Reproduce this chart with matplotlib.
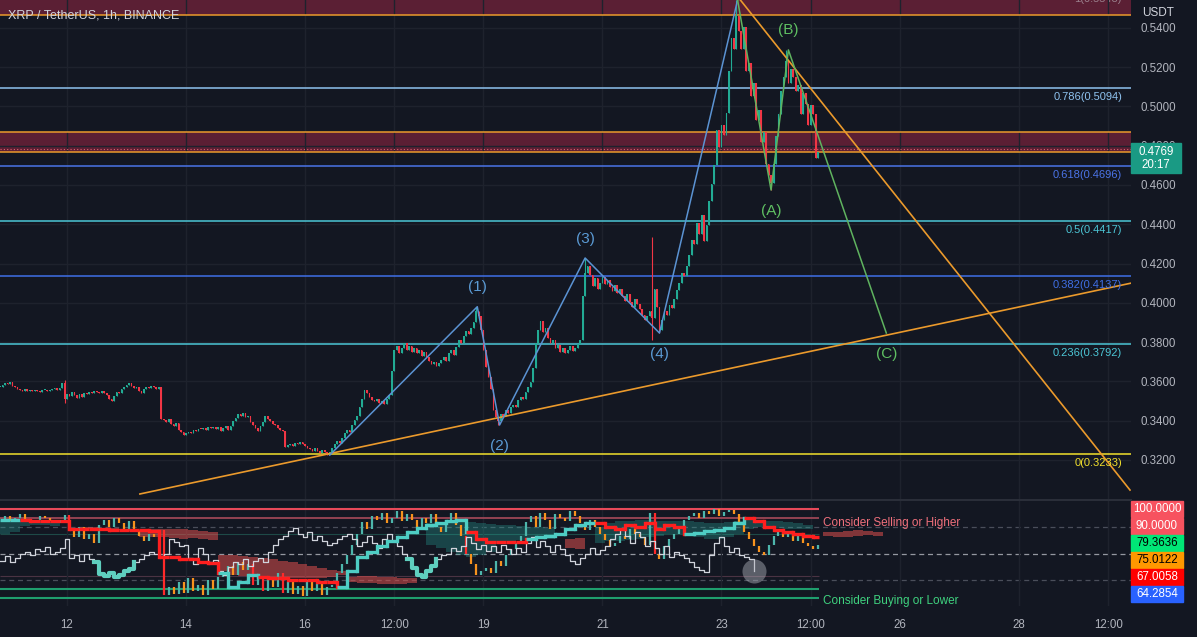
import numpy as np
import matplotlib.pyplot as plt
from matplotlib.patches import Rectangle
from matplotlib.lines import Line2D

plt.rcParams['font.family'] = ['Liberation Sans', 'DejaVu Sans']

BG = '#131722'
GRID = '#1e222d'
TXT = '#b2b5be'
UP = '#22ab94'
DN = '#f23645'
ORANGE = '#eb9a2c'

# hourly closes XRP/USDT, first candle at hour -27 (hours counted from 12 Sep 00:00)
first_hour = -27
closes = [
    0.3572, 0.3581, 0.3594, 0.3588, 0.3596, 0.3578, 0.3570, 0.3562, 0.3558, 0.3553,
    0.3560, 0.3549, 0.3555, 0.3551, 0.3558, 0.3552, 0.3547, 0.3554, 0.3557, 0.3549,
    0.3556, 0.3561, 0.3567, 0.3558, 0.3565, 0.3590, 0.3512, 0.3538, 0.3527, 0.3545,
    0.3530, 0.3518, 0.3534, 0.3521, 0.3540, 0.3536, 0.3548, 0.3542, 0.3553, 0.3546,
    0.3539, 0.3551, 0.3543, 0.3530, 0.3512, 0.3498, 0.3524, 0.3547, 0.3541, 0.3562,
    0.3570, 0.3583, 0.3594, 0.3578, 0.3565, 0.3571, 0.3552, 0.3543, 0.3560, 0.3574,
    0.3568, 0.3579, 0.3571, 0.3563, 0.3574, 0.3408, 0.3402, 0.3395, 0.3410, 0.3384,
    0.3372, 0.3389, 0.3352, 0.3341, 0.3326, 0.3338, 0.3345, 0.3336, 0.3351, 0.3347,
    0.3360, 0.3356, 0.3364, 0.3352, 0.3367, 0.3361, 0.3370, 0.3358, 0.3366, 0.3349,
    0.3362, 0.3371, 0.3355, 0.3372, 0.3398, 0.3415, 0.3432, 0.3426, 0.3440, 0.3418,
    0.3424, 0.3395, 0.3378, 0.3362, 0.3349, 0.3371, 0.3392, 0.3425, 0.3408, 0.3396,
    0.3381, 0.3376, 0.3364, 0.3352, 0.3347, 0.3268, 0.3275, 0.3281, 0.3272, 0.3286,
    0.3279, 0.3291, 0.3283, 0.3270, 0.3262, 0.3255, 0.3248, 0.3259, 0.3244, 0.3236,
    0.3250, 0.3241, 0.3228, 0.3239, 0.3262, 0.3281, 0.3296, 0.3288, 0.3312, 0.3335,
    0.3352, 0.3341, 0.3378, 0.3402, 0.3425, 0.3468, 0.3512, 0.3556, 0.3541, 0.3520,
    0.3507, 0.3498, 0.3512, 0.3489, 0.3501, 0.3486, 0.3512, 0.3530, 0.3652, 0.3758,
    0.3781, 0.3742, 0.3770, 0.3795, 0.3761, 0.3778, 0.3752, 0.3770, 0.3742, 0.3758,
    0.3731, 0.3749, 0.3722, 0.3705, 0.3688, 0.3701, 0.3679, 0.3692, 0.3710, 0.3726,
    0.3702, 0.3742, 0.3761, 0.3735, 0.3776, 0.3810, 0.3795, 0.3832, 0.3855, 0.3840,
    0.3872, 0.3903, 0.3960, 0.3935, 0.3861, 0.3758, 0.3672, 0.3621, 0.3563, 0.3452,
    0.3418, 0.3401, 0.3436, 0.3425, 0.3452, 0.3440, 0.3468, 0.3481, 0.3472, 0.3503,
    0.3521, 0.3512, 0.3548, 0.3572, 0.3596, 0.3668, 0.3795, 0.3862, 0.3905, 0.3851,
    0.3874, 0.3820, 0.3795, 0.3812, 0.3768, 0.3785, 0.3752, 0.3770, 0.3745, 0.3762,
    0.3781, 0.3757, 0.3772, 0.3790, 0.3812, 0.4035, 0.4150, 0.4186, 0.4142, 0.4088,
    0.4125, 0.4070, 0.4102, 0.4131, 0.4095, 0.4118, 0.4082, 0.4060, 0.4091, 0.4048,
    0.4072, 0.4036, 0.4010, 0.4045, 0.4002, 0.3981, 0.4018, 0.3992, 0.3968, 0.3940,
    0.3912, 0.3935, 0.3960, 0.3925, 0.4068, 0.3978, 0.3862, 0.3915, 0.3958, 0.3940,
    0.3988, 0.3975, 0.4020, 0.4065, 0.4102, 0.4150, 0.4135, 0.4188, 0.4245, 0.4320,
    0.4298, 0.4405, 0.4352, 0.4448, 0.4312, 0.4398, 0.4520, 0.4605, 0.4702, 0.4880,
    0.4795, 0.4905, 0.4852, 0.4968, 0.5180, 0.5350, 0.5290, 0.5460, 0.5385, 0.5290,
    0.5405, 0.5180, 0.5220, 0.5050, 0.5120, 0.4930, 0.4980, 0.4820, 0.4870, 0.4705,
    0.4650, 0.4610, 0.4705, 0.4850, 0.4960, 0.5080, 0.5150, 0.5230, 0.5120, 0.5190,
    0.5150, 0.5080, 0.5110, 0.4960, 0.5070, 0.5010, 0.4905, 0.5005, 0.4960, 0.4735,
    0.4769,
]
wick_hi = {-1: 0.3607, 165: 0.3980, 209: 0.4228, 236: 0.4335, 270: 0.5541, 290: 0.5287}
wick_lo = {-1: 0.3490, 105: 0.3225, 174: 0.3378, 236: 0.3810, 239: 0.3846, 284: 0.4574}
last_price = 0.4769
countdown = '20:17'

price_ticks = [0.32, 0.34, 0.36, 0.38, 0.40, 0.42, 0.44, 0.46, 0.48, 0.50, 0.52, 0.54]
date_ticks = [0, 48, 96, 132, 168, 216, 264, 300, 336, 384, 420]
date_labels = ['12', '14', '16', '12:00', '19', '21', '23', '12:00', '26', '28', '12:00']

fib_levels = [0.5094, 0.4696, 0.4417, 0.4137, 0.3792, 0.3233]
fib_names = ['0.786', '0.618', '0.5', '0.382', '0.236', '0']
fib_colors = ['#8ec2ef', '#4b74e8', '#4cc6d6', '#3f6fe6', '#4cc6d6', '#f2e02c']
zones = [(0.5465, 0.5700), (0.4767, 0.4869)]

wave_h = [106, 165.5, 174.5, 209, 239, 270.5]
wave_p = [0.3225, 0.3980, 0.3378, 0.4228, 0.3846, 0.5541]
wave_names = ['', '(1)', '(2)', '(3)', '(4)', '']
abc_h = [270.5, 284, 291, 330.5]
abc_p = [0.5541, 0.4574, 0.5287, 0.3846]
abc_names = ['', '(A)', '(B)', '(C)']
support_h, support_p = [29.4, 429.2], [0.3027, 0.4100]
resist_h, resist_p = [271.5, 428.8], [0.5543, 0.3047]

# lower pane: RSI (2h steps), lagging line (2h), base line (4h), cloud spans (4h)
rsi = [
    88, 92, 86, 90, 94, 89, 85, 88, 92, 90,
    86, 84, 88, 93, 75, 68, 80, 66, 72, 62,
    82, 88, 80, 90, 84, 78, 86, 75, 70, 64,
    72, 68, 76, 3, 12, 4, 18, 6, 22, 8,
    15, 3, 20, 10, 24, 28, 36, 26, 40, 32,
    38, 15, 25, 8, 22, 12, 28, 6, 18, 4,
    14, 2, 20, 8, 16, 3, 12, 15, 28, 38,
    48, 60, 72, 85, 78, 92, 88, 96, 84, 90,
    98, 86, 94, 88, 80, 90, 84, 94, 80, 74,
    88, 96, 82, 70, 50, 38, 26, 30, 34, 28,
    42, 36, 48, 55, 62, 70, 85, 92, 80, 96,
    88, 78, 94, 90, 86, 98, 92, 84, 76, 88,
    80, 72, 65, 58, 62, 70, 66, 78, 72, 68,
    60, 96, 50, 44, 58, 66, 72, 80, 88, 92,
    96, 90, 98, 94, 100, 92, 97, 99, 94, 82,
    74, 66, 58, 52, 48, 60, 70, 76, 68, 72,
    64, 70, 62, 58, 55, 60,
]
lagging = [
    42, 47, 40, 45, 50, 52, 48, 55, 53, 57,
    50, 52, 56, 66, 45, 48, 42, 50, 44, 40,
    27, 25, 28, 24, 26, 30, 33, 40, 44, 48,
    52, 50, 47, 49, 66, 63, 58, 60, 45, 38,
    56, 50, 41, 43, 30, 26, 35, 40, 38, 44,
    36, 42, 45, 40, 52, 60, 66, 70, 75, 79,
    72, 68, 74, 65, 70, 64, 60, 62, 66, 70,
    72, 66, 58, 63, 70, 62, 56, 66, 72, 64,
    58, 50, 44, 34, 26, 24, 30, 36, 44, 48,
    50, 56, 53, 58, 68, 62, 55, 60, 53, 58,
    52, 60, 55, 50, 56, 52, 62, 68, 57, 64,
    58, 52, 60, 55, 48, 42, 38, 45, 50, 56,
    49, 54, 58, 66, 72, 78, 70, 62, 74, 68,
    58, 64, 56, 50, 58, 46, 52, 48, 45, 40,
    35, 31, 29, 48, 62, 68, 58, 52, 56, 48,
    46, 44, 30,
]
lagging_low = [(19, 27), (82, 88)]
base = [
    88, 88, 88, 87, 87, 87, 86,
    78, 77, 77, 77, 76, 76, 76, 76, 75,
    46, 46, 44, 44, 40, 39,
    28, 12, 18, 26,
    24, 22, 22, 20, 20, 20, 18, 18,
    12, 30, 46, 52, 58, 64, 68, 74, 79, 82, 84, 86, 88,
    74, 66, 63, 63, 63, 63,
    66, 68, 70, 72, 78, 82, 84,
    84, 80, 78, 82, 80, 84, 78, 82, 80,
    72, 73, 75, 76, 79, 84,
    90, 86, 80, 76, 74, 72, 70, 68,
]
base_rising = [(0, 1), (22, 25), (34, 46), (53, 59), (69, 74)]
span_a = [
    88, 87, 86, 86, 86, 85, 84,
    77, 77, 77, 76, 76, 76, 75,
    69, 68, 68, 67, 66, 67, 66, 65,
    30, 26, 25, 24, 24, 23, 23, 22, 22, 22, 22, 24, 26,
    18, 17, 17, 16, 16, 16, 17, 18,
    84, 85, 86, 86, 85, 84, 83,
    82, 82, 81, 80, 80, 79, 78,
    56, 55, 56,
    80, 84, 86, 87, 88, 88, 87, 86, 86, 86, 85, 84, 84, 85, 86,
    88, 88, 87, 86, 85, 84, 82, 80,
    70, 69, 68, 70, 71, 70, 69,
]
span_b = [
    72, 74, 81, 82, 82, 81, 80,
    79, 80, 80, 79, 79, 78, 78,
    76, 77, 78, 78, 77, 76, 75, 74,
    48, 48, 47, 46, 45, 44, 42, 40, 38, 36, 34, 32, 30,
    24, 25, 25, 24, 24, 23, 22, 21,
    60, 56, 52, 48, 46, 48, 52,
    62, 64, 65, 66, 66, 66, 67,
    66, 67, 66,
    62, 64, 64, 65, 66, 68, 70, 72, 72, 70, 68, 66, 66, 68, 72,
    78, 80, 80, 79, 78, 78, 77, 76,
    74, 74, 75, 76, 75, 74, 73,
]
level_vals = ['100.0000', '90.0000', '79.3636', '75.0122', '67.0058', '64.2854']
level_bg = ['#f7525f', '#f7525f', '#00e676', '#ff9800', '#ff0000', '#2962ff']
level_fg = ['white', 'white', 'black', 'black', 'white', 'white']

# ---------------------------------------------------------------- figure
W, H = 1197, 637
fig = plt.figure(figsize=(W / 100, H / 100), dpi=100, facecolor=BG)
ax = fig.add_axes([0, (H - 499) / H, 1131 / W, 499 / H], facecolor=BG)
ax2 = fig.add_axes([0, (H - 606) / H, 1131 / W, 105 / H], facecolor=BG)
xl = (-27.03, 429.2)
for a in (ax, ax2):
    a.set_xlim(*xl)
    for s in a.spines.values():
        s.set_visible(False)
    a.set_xticks(date_ticks)
    a.grid(axis='x', color=GRID, lw=1, zorder=0)
ax.set_ylim(0.30015, 0.5541)
ax2.set_ylim(-9.0, 109.0)

ax.yaxis.tick_right()
ax.set_yticks(price_ticks)
ax.set_yticklabels([f'{v:.4f}' for v in price_ticks])
ax.tick_params(axis='y', length=0, pad=7, labelsize=8.3, labelcolor=TXT)
ax.tick_params(axis='x', length=0, labelbottom=False)
ax.grid(axis='y', color=GRID, lw=1, zorder=0)

ax2.set_yticks([])
ax2.set_xticklabels(date_labels)
ax2.tick_params(axis='x', length=0, pad=9, labelsize=8.3, labelcolor=TXT)

# zones and horizontal levels
for lo_, hi_ in zones:
    ax.axhspan(lo_, hi_, color='#5b1f34', zorder=1, lw=0)
    ax.axhline(lo_, color=ORANGE, lw=1.1, zorder=2)
    ax.axhline(hi_, color=ORANGE, lw=1.1, zorder=2)
ax.axhline(last_price + 0.0012, color='#e0606e', lw=0.8, ls=(0, (1, 2)), zorder=2)

for lvl, nm, c in zip(fib_levels, fib_names, fib_colors):
    ax.axhline(lvl, color=c, lw=1.1, zorder=2)
    ax.annotate(f'{nm}({lvl:.4f})', xy=(1122 / 1131, lvl),
                xycoords=('axes fraction', 'data'), xytext=(0, -3),
                textcoords='offset points', ha='right', va='top',
                fontsize=8, color=c, zorder=6)
ax.text(1122 / 1131, 0.5546, '1(0.5543)', transform=ax.get_yaxis_transform(),
        ha='right', va='center', fontsize=8, color='#9a7f8c', clip_on=True)

# candles
hrs = first_hour + np.arange(len(closes))
cl = np.array(closes)
op = np.r_[cl[0], cl[:-1]]
hi = np.maximum(op, cl)
lo = np.minimum(op, cl)
for k, v in wick_hi.items():
    hi[k - first_hour] = v
for k, v in wick_lo.items():
    lo[k - first_hour] = v
ccol = np.where(cl >= op, UP, DN)
ax.vlines(hrs, lo, hi, colors=ccol, lw=0.8, zorder=3)
body_lo = np.minimum(op, cl)
body_h = np.maximum(np.abs(cl - op), 0.0005)
ax.bar(hrs, body_h, bottom=body_lo, width=0.7, color=ccol, lw=0, zorder=3)

# trend lines and waves
ax.plot(support_h, support_p, color=ORANGE, lw=1.2, zorder=4)
ax.plot(resist_h, resist_p, color=ORANGE, lw=1.2, zorder=4)
ax.plot(wave_h, wave_p, color='#5b93d3', lw=1.1, zorder=4)
ax.plot(abc_h, abc_p, color='#5fb35f', lw=1.1, zorder=4)
for hh, pp, names, c in [(wave_h, wave_p, wave_names, '#5b9bd5'),
                         (abc_h, abc_p, abc_names, '#5fbf62')]:
    for i in range(1, len(hh)):
        if not names[i]:
            continue
        dy = 14 if pp[i] > pp[i - 1] else -15
        ax.annotate(names[i], xy=(hh[i], pp[i]), xytext=(0, dy),
                    textcoords='offset points', ha='center', va='center',
                    fontsize=11, color=c, zorder=6)

ax.text(8 / 1131, 1 - 16 / 499, 'XRP / TetherUS, 1h, BINANCE', transform=ax.transAxes,
        ha='left', va='center', fontsize=9, color='#d1d4dc', zorder=7)

# right axis tags
yt = ax.get_yaxis_transform()
ax.text(1142 / 1131, 0.5476, 'USDT', transform=yt, ha='left', va='center',
        fontsize=8.5, color='#d1d4dc', clip_on=False, zorder=8,
        bbox=dict(boxstyle='square,pad=0.25', fc=BG, ec='none'))
ax.add_patch(Rectangle((1.0, last_price - 0.0107), 50 / 1131, 0.0153, transform=yt,
                       color='#1a9a84', clip_on=False, zorder=8))
ax.text(1156 / 1131, last_price, f'{last_price:.4f}', transform=yt, ha='center',
        va='center', fontsize=8.3, color='white', clip_on=False, zorder=9)
ax.text(1156 / 1131, last_price - 0.0066, countdown, transform=yt, ha='center',
        va='center', fontsize=8.3, color='white', clip_on=False, zorder=9)

# ---------------------------------------------------------------- lower pane
last_h = hrs[-1] + 0.5
ax2.hlines(100, xl[0], last_h, color='#e84a5a', lw=1.5, zorder=2)
ax2.hlines(90, xl[0], last_h, color='#9c4656', lw=1.3, zorder=2)
ax2.hlines(72, xl[0], last_h, color='#1e4a47', lw=0.8, zorder=1)
ax2.hlines(25, xl[0], last_h, color='#4a3343', lw=0.8, zorder=1)
ax2.hlines(10, xl[0], last_h, color='#1f9e6e', lw=1.5, zorder=2)
ax2.hlines(0, xl[0], last_h, color='#1f9e6e', lw=1.5, zorder=2)
ax2.axhline(80, color='#4a4e5a', lw=0.9, ls=(0, (4, 3)), zorder=1)
ax2.axhline(50, color='#9598a1', lw=0.9, ls=(0, (4, 3)), zorder=1)
ax2.axhline(20, color='#4a4e5a', lw=0.9, ls=(0, (4, 3)), zorder=1)

sa = np.array(span_a, float)
sb = np.array(span_b, float)
ch = first_hour + 4 * np.arange(len(sa))
ax2.fill_between(ch, sa, sb, where=sa >= sb, step='post', color='#26a69a',
                 alpha=0.32, lw=0, zorder=2)
ax2.fill_between(ch, sa, sb, where=sa < sb, step='post', color='#ef5350',
                 alpha=0.5, lw=0, zorder=2)

r = np.array(rsi, float)
rh = first_hour + 2 * np.arange(len(r))
d = np.diff(r)
bcol = np.where(d >= 0, '#4db6ac', np.where(d < -15, '#ff2a2a', '#f7931e'))
ax2.vlines(rh[1:], np.minimum(r[:-1], r[1:]), np.maximum(r[:-1], r[1:]),
           colors=bcol, lw=1.6, zorder=3)

lg = np.array(lagging, float)
lh = first_hour + 2 * np.arange(len(lg))
ax2.plot(lh, lg, drawstyle='steps-post', color='#d1d4dc', lw=0.9, zorder=4)
for a, b in lagging_low:
    ax2.plot(lh[a:b + 1], lg[a:b + 1], drawstyle='steps-post', color='#5fcfbf',
             lw=3, zorder=4)
ax2.scatter([lh[-1]], [lg[-1]], s=300, color='#b2b5be', alpha=0.45, lw=0, zorder=5)

bs = np.array(base, float)
bh = first_hour + 4 * np.arange(len(bs))
rising = np.zeros(len(bs), bool)
for a, b in base_rising:
    rising[a:b + 1] = True
for j in range(len(bs)):
    c = '#4ecdc4' if rising[j] else '#ff1f1f'
    x1 = min(bh[j] + 4, last_h)
    ax2.plot([bh[j], x1], [bs[j], bs[j]], color=c, lw=2.4, zorder=5,
             solid_capstyle='butt')
    if j + 1 < len(bs):
        ax2.plot([x1, x1], [bs[j], bs[j + 1]], color=c, lw=2.4, zorder=5)

ax2.text(last_h + 1.5, 84, 'Consider Selling or Higher', ha='left', va='center',
         fontsize=8.5, color='#f0707c', zorder=6)
ax2.text(last_h + 1.5, -3.5, 'Consider Buying or Lower', ha='left', va='center',
         fontsize=8.5, color='#3fd27f', zorder=6)

yt2 = ax2.get_yaxis_transform()
for k, (txt, bg, fg) in enumerate(zip(level_vals, level_bg, level_fg)):
    yc = 100 - 19.1 * k
    ax2.add_patch(Rectangle((1.0, yc - 9.3), 52 / 1131, 18.6, transform=yt2,
                            color=bg, clip_on=False, zorder=8))
    ax2.text(1157 / 1131, yc, txt, transform=yt2, ha='center', va='center',
             fontsize=8.3, color=fg, clip_on=False, zorder=9)

fig.add_artist(Line2D([0, 1131 / W], [(H - 500) / H] * 2, color='#2a2e39', lw=1.5))

fig.savefig('out.png', dpi=100, facecolor=BG)
